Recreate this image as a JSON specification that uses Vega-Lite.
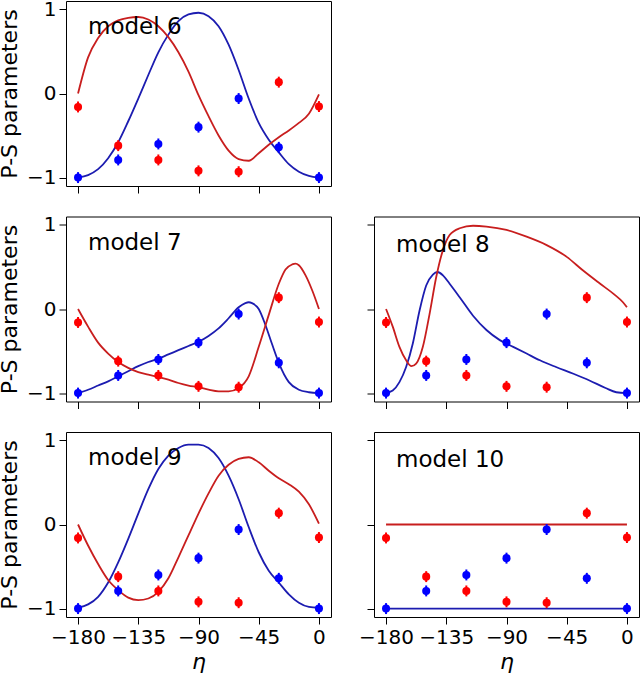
{
  "$schema": "https://vega.github.io/schema/vega-lite/v6.json",
  "autosize": {"type": "none"},
  "padding": {"left": 66, "top": 1, "right": 574, "bottom": 672},
  "datasets": {
    "pts": [
      {"eta": -180, "val": -1.0, "err": 0.065, "series": "s1"},
      {"eta": -150, "val": -0.79, "err": 0.065, "series": "s1"},
      {"eta": -120, "val": -0.60, "err": 0.065, "series": "s1"},
      {"eta": -90, "val": -0.40, "err": 0.065, "series": "s1"},
      {"eta": -60, "val": -0.06, "err": 0.065, "series": "s1"},
      {"eta": -30, "val": -0.64, "err": 0.065, "series": "s1"},
      {"eta": 0, "val": -1.0, "err": 0.065, "series": "s1"},
      {"eta": -180, "val": -0.16, "err": 0.065, "series": "s2"},
      {"eta": -150, "val": -0.62, "err": 0.065, "series": "s2"},
      {"eta": -120, "val": -0.79, "err": 0.065, "series": "s2"},
      {"eta": -90, "val": -0.92, "err": 0.065, "series": "s2"},
      {"eta": -60, "val": -0.93, "err": 0.065, "series": "s2"},
      {"eta": -30, "val": 0.135, "err": 0.065, "series": "s2"},
      {"eta": 0, "val": -0.155, "err": 0.065, "series": "s2"}
    ],
    "curves": [
      {"model": "model 6", "series": "s1", "eta": -180, "val": -1.0},
      {"model": "model 6", "series": "s1", "eta": -172.5, "val": -0.97},
      {"model": "model 6", "series": "s1", "eta": -165, "val": -0.90},
      {"model": "model 6", "series": "s1", "eta": -157.5, "val": -0.77},
      {"model": "model 6", "series": "s1", "eta": -150, "val": -0.58},
      {"model": "model 6", "series": "s1", "eta": -142.5, "val": -0.33},
      {"model": "model 6", "series": "s1", "eta": -135, "val": -0.06},
      {"model": "model 6", "series": "s1", "eta": -127.5, "val": 0.22},
      {"model": "model 6", "series": "s1", "eta": -120, "val": 0.49},
      {"model": "model 6", "series": "s1", "eta": -112.5, "val": 0.70},
      {"model": "model 6", "series": "s1", "eta": -105, "val": 0.86},
      {"model": "model 6", "series": "s1", "eta": -97.5, "val": 0.94},
      {"model": "model 6", "series": "s1", "eta": -90, "val": 0.96},
      {"model": "model 6", "series": "s1", "eta": -82.5, "val": 0.92},
      {"model": "model 6", "series": "s1", "eta": -75, "val": 0.80},
      {"model": "model 6", "series": "s1", "eta": -67.5, "val": 0.58},
      {"model": "model 6", "series": "s1", "eta": -60, "val": 0.28},
      {"model": "model 6", "series": "s1", "eta": -52.5, "val": -0.06},
      {"model": "model 6", "series": "s1", "eta": -45, "val": -0.35},
      {"model": "model 6", "series": "s1", "eta": -37.5, "val": -0.55},
      {"model": "model 6", "series": "s1", "eta": -30, "val": -0.70},
      {"model": "model 6", "series": "s1", "eta": -22.5, "val": -0.84},
      {"model": "model 6", "series": "s1", "eta": -15, "val": -0.93},
      {"model": "model 6", "series": "s1", "eta": -7.5, "val": -0.98},
      {"model": "model 6", "series": "s1", "eta": 0, "val": -1.0},
      {"model": "model 6", "series": "s2", "eta": -180, "val": 0.0},
      {"model": "model 6", "series": "s2", "eta": -172.5, "val": 0.43},
      {"model": "model 6", "series": "s2", "eta": -165, "val": 0.66},
      {"model": "model 6", "series": "s2", "eta": -157.5, "val": 0.80},
      {"model": "model 6", "series": "s2", "eta": -150, "val": 0.87},
      {"model": "model 6", "series": "s2", "eta": -142.5, "val": 0.90},
      {"model": "model 6", "series": "s2", "eta": -135, "val": 0.91},
      {"model": "model 6", "series": "s2", "eta": -127.5, "val": 0.88},
      {"model": "model 6", "series": "s2", "eta": -120, "val": 0.80},
      {"model": "model 6", "series": "s2", "eta": -112.5, "val": 0.67},
      {"model": "model 6", "series": "s2", "eta": -105, "val": 0.49},
      {"model": "model 6", "series": "s2", "eta": -97.5, "val": 0.26},
      {"model": "model 6", "series": "s2", "eta": -90, "val": -0.02},
      {"model": "model 6", "series": "s2", "eta": -82.5, "val": -0.27},
      {"model": "model 6", "series": "s2", "eta": -75, "val": -0.50},
      {"model": "model 6", "series": "s2", "eta": -67.5, "val": -0.68},
      {"model": "model 6", "series": "s2", "eta": -60, "val": -0.78},
      {"model": "model 6", "series": "s2", "eta": -52.5, "val": -0.80},
      {"model": "model 6", "series": "s2", "eta": -45, "val": -0.71},
      {"model": "model 6", "series": "s2", "eta": -37.5, "val": -0.61},
      {"model": "model 6", "series": "s2", "eta": -30, "val": -0.52},
      {"model": "model 6", "series": "s2", "eta": -22.5, "val": -0.44},
      {"model": "model 6", "series": "s2", "eta": -15, "val": -0.35},
      {"model": "model 6", "series": "s2", "eta": -7.5, "val": -0.24},
      {"model": "model 6", "series": "s2", "eta": 0, "val": -0.01},
      {"model": "model 7", "series": "s1", "eta": -180, "val": -1.0},
      {"model": "model 7", "series": "s1", "eta": -172.5, "val": -0.96},
      {"model": "model 7", "series": "s1", "eta": -165, "val": -0.91},
      {"model": "model 7", "series": "s1", "eta": -157.5, "val": -0.86},
      {"model": "model 7", "series": "s1", "eta": -150, "val": -0.80},
      {"model": "model 7", "series": "s1", "eta": -142.5, "val": -0.74},
      {"model": "model 7", "series": "s1", "eta": -135, "val": -0.68},
      {"model": "model 7", "series": "s1", "eta": -127.5, "val": -0.63},
      {"model": "model 7", "series": "s1", "eta": -120, "val": -0.59},
      {"model": "model 7", "series": "s1", "eta": -112.5, "val": -0.54},
      {"model": "model 7", "series": "s1", "eta": -105, "val": -0.49},
      {"model": "model 7", "series": "s1", "eta": -97.5, "val": -0.44},
      {"model": "model 7", "series": "s1", "eta": -90, "val": -0.39},
      {"model": "model 7", "series": "s1", "eta": -82.5, "val": -0.32},
      {"model": "model 7", "series": "s1", "eta": -75, "val": -0.23},
      {"model": "model 7", "series": "s1", "eta": -67.5, "val": -0.11},
      {"model": "model 7", "series": "s1", "eta": -60, "val": 0.02},
      {"model": "model 7", "series": "s1", "eta": -55, "val": 0.07},
      {"model": "model 7", "series": "s1", "eta": -52.5, "val": 0.08},
      {"model": "model 7", "series": "s1", "eta": -50, "val": 0.07},
      {"model": "model 7", "series": "s1", "eta": -45, "val": 0.0},
      {"model": "model 7", "series": "s1", "eta": -40, "val": -0.19},
      {"model": "model 7", "series": "s1", "eta": -35, "val": -0.42},
      {"model": "model 7", "series": "s1", "eta": -30, "val": -0.64},
      {"model": "model 7", "series": "s1", "eta": -22.5, "val": -0.87},
      {"model": "model 7", "series": "s1", "eta": -15, "val": -0.96},
      {"model": "model 7", "series": "s1", "eta": -7.5, "val": -0.99},
      {"model": "model 7", "series": "s1", "eta": 0, "val": -1.0},
      {"model": "model 7", "series": "s2", "eta": -180, "val": 0.0},
      {"model": "model 7", "series": "s2", "eta": -172.5, "val": -0.21},
      {"model": "model 7", "series": "s2", "eta": -165, "val": -0.40},
      {"model": "model 7", "series": "s2", "eta": -157.5, "val": -0.53},
      {"model": "model 7", "series": "s2", "eta": -150, "val": -0.63},
      {"model": "model 7", "series": "s2", "eta": -142.5, "val": -0.70},
      {"model": "model 7", "series": "s2", "eta": -135, "val": -0.75},
      {"model": "model 7", "series": "s2", "eta": -127.5, "val": -0.78},
      {"model": "model 7", "series": "s2", "eta": -120, "val": -0.81},
      {"model": "model 7", "series": "s2", "eta": -112.5, "val": -0.84},
      {"model": "model 7", "series": "s2", "eta": -105, "val": -0.88},
      {"model": "model 7", "series": "s2", "eta": -97.5, "val": -0.91},
      {"model": "model 7", "series": "s2", "eta": -90, "val": -0.93},
      {"model": "model 7", "series": "s2", "eta": -82.5, "val": -0.96},
      {"model": "model 7", "series": "s2", "eta": -75, "val": -0.98},
      {"model": "model 7", "series": "s2", "eta": -67.5, "val": -0.98},
      {"model": "model 7", "series": "s2", "eta": -60, "val": -0.94},
      {"model": "model 7", "series": "s2", "eta": -52.5, "val": -0.80},
      {"model": "model 7", "series": "s2", "eta": -45, "val": -0.45},
      {"model": "model 7", "series": "s2", "eta": -37.5, "val": -0.07},
      {"model": "model 7", "series": "s2", "eta": -30, "val": 0.30},
      {"model": "model 7", "series": "s2", "eta": -25, "val": 0.47},
      {"model": "model 7", "series": "s2", "eta": -20, "val": 0.53},
      {"model": "model 7", "series": "s2", "eta": -17.5, "val": 0.54},
      {"model": "model 7", "series": "s2", "eta": -15, "val": 0.52},
      {"model": "model 7", "series": "s2", "eta": -10, "val": 0.40},
      {"model": "model 7", "series": "s2", "eta": -5, "val": 0.22},
      {"model": "model 7", "series": "s2", "eta": 0, "val": 0.0},
      {"model": "model 8", "series": "s1", "eta": -180, "val": -1.0},
      {"model": "model 8", "series": "s1", "eta": -175, "val": -0.97},
      {"model": "model 8", "series": "s1", "eta": -170, "val": -0.87},
      {"model": "model 8", "series": "s1", "eta": -165, "val": -0.69},
      {"model": "model 8", "series": "s1", "eta": -160, "val": -0.41},
      {"model": "model 8", "series": "s1", "eta": -155, "val": -0.02},
      {"model": "model 8", "series": "s1", "eta": -150, "val": 0.28},
      {"model": "model 8", "series": "s1", "eta": -145, "val": 0.41},
      {"model": "model 8", "series": "s1", "eta": -141.5, "val": 0.44},
      {"model": "model 8", "series": "s1", "eta": -137.5, "val": 0.40},
      {"model": "model 8", "series": "s1", "eta": -132.5, "val": 0.30},
      {"model": "model 8", "series": "s1", "eta": -125, "val": 0.14},
      {"model": "model 8", "series": "s1", "eta": -115, "val": -0.08},
      {"model": "model 8", "series": "s1", "eta": -105, "val": -0.25},
      {"model": "model 8", "series": "s1", "eta": -95, "val": -0.37},
      {"model": "model 8", "series": "s1", "eta": -85, "val": -0.45},
      {"model": "model 8", "series": "s1", "eta": -75, "val": -0.53},
      {"model": "model 8", "series": "s1", "eta": -65, "val": -0.61},
      {"model": "model 8", "series": "s1", "eta": -53, "val": -0.69},
      {"model": "model 8", "series": "s1", "eta": -40, "val": -0.77},
      {"model": "model 8", "series": "s1", "eta": -28, "val": -0.85},
      {"model": "model 8", "series": "s1", "eta": -16, "val": -0.94},
      {"model": "model 8", "series": "s1", "eta": -8, "val": -0.99},
      {"model": "model 8", "series": "s1", "eta": 0, "val": -1.0},
      {"model": "model 8", "series": "s2", "eta": -180, "val": 0.0},
      {"model": "model 8", "series": "s2", "eta": -175, "val": -0.21},
      {"model": "model 8", "series": "s2", "eta": -170, "val": -0.45},
      {"model": "model 8", "series": "s2", "eta": -165, "val": -0.61},
      {"model": "model 8", "series": "s2", "eta": -161, "val": -0.68},
      {"model": "model 8", "series": "s2", "eta": -157.5, "val": -0.65},
      {"model": "model 8", "series": "s2", "eta": -152.5, "val": -0.45},
      {"model": "model 8", "series": "s2", "eta": -147.5, "val": -0.06},
      {"model": "model 8", "series": "s2", "eta": -142.5, "val": 0.38},
      {"model": "model 8", "series": "s2", "eta": -137.5, "val": 0.70},
      {"model": "model 8", "series": "s2", "eta": -132.5, "val": 0.88},
      {"model": "model 8", "series": "s2", "eta": -125, "val": 0.96},
      {"model": "model 8", "series": "s2", "eta": -115, "val": 0.99},
      {"model": "model 8", "series": "s2", "eta": -105, "val": 0.98},
      {"model": "model 8", "series": "s2", "eta": -90, "val": 0.94},
      {"model": "model 8", "series": "s2", "eta": -75, "val": 0.86},
      {"model": "model 8", "series": "s2", "eta": -60, "val": 0.76},
      {"model": "model 8", "series": "s2", "eta": -45, "val": 0.62},
      {"model": "model 8", "series": "s2", "eta": -33, "val": 0.46},
      {"model": "model 8", "series": "s2", "eta": -20, "val": 0.30},
      {"model": "model 8", "series": "s2", "eta": -10, "val": 0.18},
      {"model": "model 8", "series": "s2", "eta": -3, "val": 0.08},
      {"model": "model 8", "series": "s2", "eta": 0, "val": 0.02},
      {"model": "model 9", "series": "s1", "eta": -180, "val": -0.99},
      {"model": "model 9", "series": "s1", "eta": -172.5, "val": -0.95},
      {"model": "model 9", "series": "s1", "eta": -165, "val": -0.86},
      {"model": "model 9", "series": "s1", "eta": -157.5, "val": -0.69},
      {"model": "model 9", "series": "s1", "eta": -150, "val": -0.45},
      {"model": "model 9", "series": "s1", "eta": -142.5, "val": -0.17},
      {"model": "model 9", "series": "s1", "eta": -135, "val": 0.13},
      {"model": "model 9", "series": "s1", "eta": -127.5, "val": 0.42},
      {"model": "model 9", "series": "s1", "eta": -120, "val": 0.66},
      {"model": "model 9", "series": "s1", "eta": -112.5, "val": 0.82},
      {"model": "model 9", "series": "s1", "eta": -105, "val": 0.91},
      {"model": "model 9", "series": "s1", "eta": -97.5, "val": 0.95},
      {"model": "model 9", "series": "s1", "eta": -90, "val": 0.95},
      {"model": "model 9", "series": "s1", "eta": -82.5, "val": 0.91},
      {"model": "model 9", "series": "s1", "eta": -75, "val": 0.79},
      {"model": "model 9", "series": "s1", "eta": -67.5, "val": 0.58},
      {"model": "model 9", "series": "s1", "eta": -60, "val": 0.30},
      {"model": "model 9", "series": "s1", "eta": -52.5, "val": -0.03},
      {"model": "model 9", "series": "s1", "eta": -45, "val": -0.33},
      {"model": "model 9", "series": "s1", "eta": -37.5, "val": -0.55},
      {"model": "model 9", "series": "s1", "eta": -30, "val": -0.69},
      {"model": "model 9", "series": "s1", "eta": -22.5, "val": -0.83},
      {"model": "model 9", "series": "s1", "eta": -15, "val": -0.93},
      {"model": "model 9", "series": "s1", "eta": -7.5, "val": -0.98},
      {"model": "model 9", "series": "s1", "eta": 0, "val": -0.99},
      {"model": "model 9", "series": "s2", "eta": -180, "val": 0.0},
      {"model": "model 9", "series": "s2", "eta": -172.5, "val": -0.25},
      {"model": "model 9", "series": "s2", "eta": -165, "val": -0.47},
      {"model": "model 9", "series": "s2", "eta": -157.5, "val": -0.66},
      {"model": "model 9", "series": "s2", "eta": -150, "val": -0.78},
      {"model": "model 9", "series": "s2", "eta": -142.5, "val": -0.87},
      {"model": "model 9", "series": "s2", "eta": -135, "val": -0.90},
      {"model": "model 9", "series": "s2", "eta": -127.5, "val": -0.88},
      {"model": "model 9", "series": "s2", "eta": -120, "val": -0.80},
      {"model": "model 9", "series": "s2", "eta": -112.5, "val": -0.64},
      {"model": "model 9", "series": "s2", "eta": -105, "val": -0.39},
      {"model": "model 9", "series": "s2", "eta": -97.5, "val": -0.13},
      {"model": "model 9", "series": "s2", "eta": -90, "val": 0.13},
      {"model": "model 9", "series": "s2", "eta": -82.5, "val": 0.37},
      {"model": "model 9", "series": "s2", "eta": -75, "val": 0.58},
      {"model": "model 9", "series": "s2", "eta": -67.5, "val": 0.71},
      {"model": "model 9", "series": "s2", "eta": -60, "val": 0.78},
      {"model": "model 9", "series": "s2", "eta": -52.5, "val": 0.80},
      {"model": "model 9", "series": "s2", "eta": -45, "val": 0.74},
      {"model": "model 9", "series": "s2", "eta": -37.5, "val": 0.64},
      {"model": "model 9", "series": "s2", "eta": -30, "val": 0.55},
      {"model": "model 9", "series": "s2", "eta": -22.5, "val": 0.48},
      {"model": "model 9", "series": "s2", "eta": -15, "val": 0.39},
      {"model": "model 9", "series": "s2", "eta": -7.5, "val": 0.24},
      {"model": "model 9", "series": "s2", "eta": 0, "val": 0.01},
      {"model": "model 10", "series": "s1", "eta": -180, "val": -1.0},
      {"model": "model 10", "series": "s1", "eta": 0, "val": -1.0},
      {"model": "model 10", "series": "s2", "eta": -180, "val": 0.0},
      {"model": "model 10", "series": "s2", "eta": 0, "val": 0.0}
    ]
  },
  "columns": 2,
  "bounds": "flush",
  "spacing": {"row": 30.5, "column": 43},
  "concat": [
    {
      "width": 265, "height": 185,
      "title": {"text": "model 6", "anchor": "start", "orient": "top", "frame": "group", "baseline": "alphabetic", "offset": -58, "dx": 22, "fontSize": 23, "fontWeight": "normal", "font": "DejaVu Sans", "color": "black"},
      "encoding": {
        "x": {"field": "eta", "type": "quantitative", "scale": {"domain": [-189, 9], "nice": false, "zero": false},
              "axis": {"values": [-180, -135, -90, -45, 0], "labels": false, "title": null, "tickSize": 7, "domain": false, "grid": false}},
        "y": {"field": "val", "type": "quantitative", "scale": {"domain": [-1.1, 1.1], "nice": false, "zero": false},
              "axis": {"values": [-1, 0, 1], "format": "d", "title": "P-S parameters", "labelFontSize": 20, "titleFontSize": 22, "titleFontWeight": "normal", "tickSize": 7, "labelPadding": 3, "titlePadding": 5, "domain": false, "grid": false}}
      },
      "layer": [
        {"data": {"name": "curves"}, "transform": [{"filter": "datum.model == 'model 6'"}],
         "mark": {"type": "line", "interpolate": "monotone", "strokeWidth": 1.8},
         "encoding": {"color": {"field": "series", "type": "nominal", "scale": {"domain": ["s1", "s2"], "range": ["#1c1cb0", "#c81e1e"]}, "legend": null}}},
        {"data": {"name": "pts"}, "mark": {"type": "errorbar", "thickness": 2},
         "encoding": {"yError": {"field": "err"}, "color": {"field": "series", "type": "nominal", "scale": {"domain": ["s1", "s2"], "range": ["#0000ff", "#ff0000"]}, "legend": null}}},
        {"data": {"name": "pts"}, "mark": {"type": "point", "filled": true, "size": 65, "opacity": 1},
         "encoding": {"color": {"field": "series", "type": "nominal", "scale": {"domain": ["s1", "s2"], "range": ["#0000ff", "#ff0000"]}, "legend": null}}}
      ],
      "resolve": {"scale": {"color": "independent"}}
    },
    {
      "width": 265, "height": 185,
      "view": {"stroke": null},
      "data": {"values": []},
      "mark": "point",
      "encoding": {}
    },
    {
      "width": 265, "height": 185,
      "title": {"text": "model 7", "anchor": "start", "orient": "top", "frame": "group", "baseline": "alphabetic", "offset": -58, "dx": 22, "fontSize": 23, "fontWeight": "normal", "font": "DejaVu Sans", "color": "black"},
      "encoding": {
        "x": {"field": "eta", "type": "quantitative", "scale": {"domain": [-189, 9], "nice": false, "zero": false},
              "axis": {"values": [-180, -135, -90, -45, 0], "labels": false, "title": null, "tickSize": 7, "domain": false, "grid": false}},
        "y": {"field": "val", "type": "quantitative", "scale": {"domain": [-1.1, 1.1], "nice": false, "zero": false},
              "axis": {"values": [-1, 0, 1], "format": "d", "title": "P-S parameters", "labelFontSize": 20, "titleFontSize": 22, "titleFontWeight": "normal", "tickSize": 7, "labelPadding": 3, "titlePadding": 5, "domain": false, "grid": false}}
      },
      "layer": [
        {"data": {"name": "curves"}, "transform": [{"filter": "datum.model == 'model 7'"}],
         "mark": {"type": "line", "interpolate": "monotone", "strokeWidth": 1.8},
         "encoding": {"color": {"field": "series", "type": "nominal", "scale": {"domain": ["s1", "s2"], "range": ["#1c1cb0", "#c81e1e"]}, "legend": null}}},
        {"data": {"name": "pts"}, "mark": {"type": "errorbar", "thickness": 2},
         "encoding": {"yError": {"field": "err"}, "color": {"field": "series", "type": "nominal", "scale": {"domain": ["s1", "s2"], "range": ["#0000ff", "#ff0000"]}, "legend": null}}},
        {"data": {"name": "pts"}, "mark": {"type": "point", "filled": true, "size": 65, "opacity": 1},
         "encoding": {"color": {"field": "series", "type": "nominal", "scale": {"domain": ["s1", "s2"], "range": ["#0000ff", "#ff0000"]}, "legend": null}}}
      ],
      "resolve": {"scale": {"color": "independent"}}
    },
    {
      "width": 265, "height": 185,
      "title": {"text": "model 8", "anchor": "start", "orient": "top", "frame": "group", "baseline": "alphabetic", "offset": -58, "dx": 22, "fontSize": 23, "fontWeight": "normal", "font": "DejaVu Sans", "color": "black"},
      "encoding": {
        "x": {"field": "eta", "type": "quantitative", "scale": {"domain": [-189, 9], "nice": false, "zero": false},
              "axis": {"values": [-180, -135, -90, -45, 0], "labels": false, "title": null, "tickSize": 7, "domain": false, "grid": false}},
        "y": {"field": "val", "type": "quantitative", "scale": {"domain": [-1.1, 1.1], "nice": false, "zero": false},
              "axis": {"values": [-1, 0, 1], "labels": false, "title": null, "tickSize": 7, "domain": false, "grid": false}}
      },
      "layer": [
        {"data": {"name": "curves"}, "transform": [{"filter": "datum.model == 'model 8'"}],
         "mark": {"type": "line", "interpolate": "monotone", "strokeWidth": 1.8},
         "encoding": {"color": {"field": "series", "type": "nominal", "scale": {"domain": ["s1", "s2"], "range": ["#1c1cb0", "#c81e1e"]}, "legend": null}}},
        {"data": {"name": "pts"}, "mark": {"type": "errorbar", "thickness": 2},
         "encoding": {"yError": {"field": "err"}, "color": {"field": "series", "type": "nominal", "scale": {"domain": ["s1", "s2"], "range": ["#0000ff", "#ff0000"]}, "legend": null}}},
        {"data": {"name": "pts"}, "mark": {"type": "point", "filled": true, "size": 65, "opacity": 1},
         "encoding": {"color": {"field": "series", "type": "nominal", "scale": {"domain": ["s1", "s2"], "range": ["#0000ff", "#ff0000"]}, "legend": null}}}
      ],
      "resolve": {"scale": {"color": "independent"}}
    },
    {
      "width": 265, "height": 185,
      "title": {"text": "model 9", "anchor": "start", "orient": "top", "frame": "group", "baseline": "alphabetic", "offset": -58, "dx": 22, "fontSize": 23, "fontWeight": "normal", "font": "DejaVu Sans", "color": "black"},
      "encoding": {
        "x": {"field": "eta", "type": "quantitative", "scale": {"domain": [-189, 9], "nice": false, "zero": false},
              "axis": {"values": [-180, -135, -90, -45, 0], "format": "d", "title": "η", "titleFontStyle": "italic", "titleFontSize": 22, "titleFontWeight": "normal", "labelFontSize": 20, "tickSize": 7, "labelPadding": 3, "titlePadding": 4, "labelOverlap": false, "labelFlush": false, "domain": false, "grid": false}},
        "y": {"field": "val", "type": "quantitative", "scale": {"domain": [-1.1, 1.1], "nice": false, "zero": false},
              "axis": {"values": [-1, 0, 1], "format": "d", "title": "P-S parameters", "labelFontSize": 20, "titleFontSize": 22, "titleFontWeight": "normal", "tickSize": 7, "labelPadding": 3, "titlePadding": 5, "domain": false, "grid": false}}
      },
      "layer": [
        {"data": {"name": "curves"}, "transform": [{"filter": "datum.model == 'model 9'"}],
         "mark": {"type": "line", "interpolate": "monotone", "strokeWidth": 1.8},
         "encoding": {"color": {"field": "series", "type": "nominal", "scale": {"domain": ["s1", "s2"], "range": ["#1c1cb0", "#c81e1e"]}, "legend": null}}},
        {"data": {"name": "pts"}, "mark": {"type": "errorbar", "thickness": 2},
         "encoding": {"yError": {"field": "err"}, "color": {"field": "series", "type": "nominal", "scale": {"domain": ["s1", "s2"], "range": ["#0000ff", "#ff0000"]}, "legend": null}}},
        {"data": {"name": "pts"}, "mark": {"type": "point", "filled": true, "size": 65, "opacity": 1},
         "encoding": {"color": {"field": "series", "type": "nominal", "scale": {"domain": ["s1", "s2"], "range": ["#0000ff", "#ff0000"]}, "legend": null}}}
      ],
      "resolve": {"scale": {"color": "independent"}}
    },
    {
      "width": 265, "height": 185,
      "title": {"text": "model 10", "anchor": "start", "orient": "top", "frame": "group", "baseline": "alphabetic", "offset": -58, "dx": 22, "fontSize": 23, "fontWeight": "normal", "font": "DejaVu Sans", "color": "black"},
      "encoding": {
        "x": {"field": "eta", "type": "quantitative", "scale": {"domain": [-189, 9], "nice": false, "zero": false},
              "axis": {"values": [-180, -135, -90, -45, 0], "format": "d", "title": "η", "titleFontStyle": "italic", "titleFontSize": 22, "titleFontWeight": "normal", "labelFontSize": 20, "tickSize": 7, "labelPadding": 3, "titlePadding": 4, "labelOverlap": false, "labelFlush": false, "domain": false, "grid": false}},
        "y": {"field": "val", "type": "quantitative", "scale": {"domain": [-1.1, 1.1], "nice": false, "zero": false},
              "axis": {"values": [-1, 0, 1], "labels": false, "title": null, "tickSize": 7, "domain": false, "grid": false}}
      },
      "layer": [
        {"data": {"name": "curves"}, "transform": [{"filter": "datum.model == 'model 10'"}],
         "mark": {"type": "line", "interpolate": "monotone", "strokeWidth": 1.8},
         "encoding": {"color": {"field": "series", "type": "nominal", "scale": {"domain": ["s1", "s2"], "range": ["#1c1cb0", "#c81e1e"]}, "legend": null}}},
        {"data": {"name": "pts"}, "mark": {"type": "errorbar", "thickness": 2},
         "encoding": {"yError": {"field": "err"}, "color": {"field": "series", "type": "nominal", "scale": {"domain": ["s1", "s2"], "range": ["#0000ff", "#ff0000"]}, "legend": null}}},
        {"data": {"name": "pts"}, "mark": {"type": "point", "filled": true, "size": 65, "opacity": 1},
         "encoding": {"color": {"field": "series", "type": "nominal", "scale": {"domain": ["s1", "s2"], "range": ["#0000ff", "#ff0000"]}, "legend": null}}}
      ],
      "resolve": {"scale": {"color": "independent"}}
    }
  ],
  "config": {
    "font": "DejaVu Sans",
    "view": {"stroke": "black", "strokeWidth": 1},
    "axis": {"tickColor": "black", "labelColor": "black", "titleColor": "black", "labelFont": "DejaVu Sans", "titleFont": "DejaVu Sans", "tickWidth": 1}
  }
}
